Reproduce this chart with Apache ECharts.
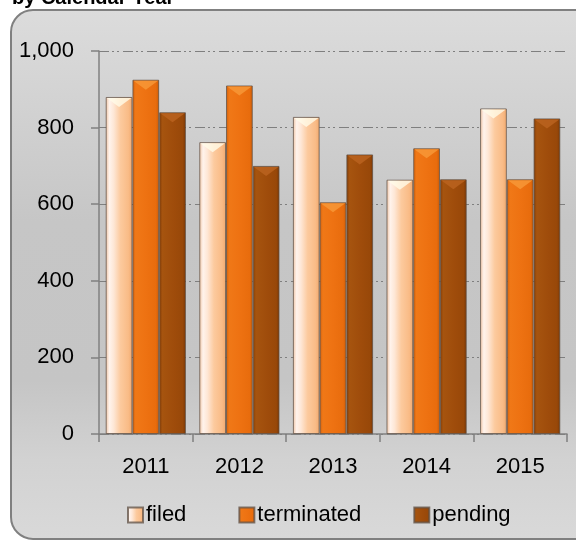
<!DOCTYPE html>
<html>
<head>
<meta charset="utf-8">
<style>
  html, body { margin: 0; padding: 0; background: #ffffff; }
  #chart { width: 576px; height: 541px; }
</style>
<script src="https://cdn.jsdelivr.net/npm/echarts@6/dist/echarts.min.js"></script>
</head>
<body>
<div id="chart"></div>
<script>
// Cases per calendar year
const years = ['2011', '2012', '2013', '2014', '2015'];
const filed = [880, 762, 828, 664, 850];
const terminated = [925, 910, 605, 746, 665];
const pending = [840, 700, 730, 665, 824];
const yTicks = [0, 200, 400, 600, 800, 1000];

const SANS = '"Liberation Sans", Arial, sans-serif';

function hGrad(stops) {
  return new echarts.graphic.LinearGradient(0, 0, 1, 0,
    stops.map(s => ({ offset: s[0], color: s[1] })));
}

const palette = {
  filed: hGrad([[0, '#efc3a3'], [0.14, '#fff3ec'], [0.3, '#fee7d6'], [0.55, '#fcca9e'], [0.85, '#f9bb86'], [1, '#f0a86e']]),
  terminated: hGrad([[0, '#d2600b'], [0.12, '#f07817'], [0.5, '#ee7212'], [0.88, '#e86c0d'], [1, '#c95b08']]),
  pending: hGrad([[0, '#833c05'], [0.12, '#a6540f'], [0.55, '#9f4c0b'], [0.88, '#984809'], [1, '#7a3704']])
};
const bevel = {
  filed: '#fffbe8',
  terminated: '#f89a3a',
  pending: '#bc6420'
};

const GAP = '14.3%';

function barSeries(name, data) {
  return {
    name: name,
    type: 'bar',
    data: data,
    barGap: '0%',
    barCategoryGap: GAP,
    itemStyle: {
      color: palette[name],
      borderColor: 'rgba(95,80,70,0.75)',
      borderWidth: 1
    },
    z: 2
  };
}

// light chevron bevel along the top edge of each bar
function bevelSeries(name, data) {
  return {
    name: name + '-top',
    type: 'pictorialBar',
    data: data,
    barGap: '0%',
    barCategoryGap: GAP,
    symbol: 'path://M0,0 L20,0 L10,7 Z',
    symbolSize: ['92%', 9],
    symbolPosition: 'end',
    symbolOffset: [0, 1],
    itemStyle: { color: bevel[name], opacity: 0.8 },
    silent: true,
    z: 3
  };
}

const chart = echarts.init(document.getElementById('chart'), null, { renderer: 'canvas' });

chart.setOption({
  animation: false,
  backgroundColor: '#ffffff',
  graphic: {
    elements: [
      {
        type: 'rect',
        z: -100,
        silent: true,
        shape: { x: 11, y: 10, width: 600, height: 529, r: 22 },
        style: {
          fill: new echarts.graphic.LinearGradient(0, 0, 0, 1, [
            { offset: 0, color: '#dcdcdc' },
            { offset: 0.4, color: '#c6c6c6' },
            { offset: 0.7, color: '#c5c5c5' },
            { offset: 0.85, color: '#d2d2d2' },
            { offset: 1, color: '#d9d9d9' }
          ]),
          stroke: '#808080',
          lineWidth: 2
        }
      },
      {
        type: 'text',
        z: -50,
        silent: true,
        style: {
          text: 'by Calendar Year',
          x: 12,
          y: -12,
          font: 'bold 20px "Liberation Sans", Arial, sans-serif',
          fill: '#000000'
        }
      }
    ]
  },
  grid: { left: 99, right: 9, top: 51, bottom: 107, containLabel: false },
  legend: {
    data: ['filed', 'terminated', 'pending'],
    left: 122,
    top: 499,
    icon: 'rect',
    itemWidth: 15,
    itemHeight: 15,
    itemGap: 52,
    textStyle: {
      fontFamily: SANS,
      fontSize: 22,
      color: '#000000',
      padding: [0, 0, 0, -2]
    }
  },
  xAxis: {
    type: 'category',
    data: years,
    axisLine: { lineStyle: { color: '#808080', width: 1.5 } },
    axisTick: { show: true, length: 8, lineStyle: { color: '#808080', width: 1.5 } },
    axisLabel: {
      fontFamily: SANS,
      fontSize: 22,
      color: '#000000',
      margin: 22
    }
  },
  yAxis: {
    type: 'value',
    min: yTicks[0],
    max: yTicks[yTicks.length - 1],
    interval: yTicks[1] - yTicks[0],
    axisLine: { show: true, lineStyle: { color: '#808080', width: 1.5 } },
    axisTick: { show: true, length: 8, lineStyle: { color: '#808080', width: 1.5 } },
    axisLabel: {
      fontFamily: SANS,
      fontSize: 22,
      color: '#000000',
      margin: 25,
      formatter: v => v.toLocaleString('en-US')
    },
    splitLine: {
      show: true,
      lineStyle: { color: '#7f7f7f', width: 1.2, type: [10, 3, 2, 3, 2, 4] }
    }
  },
  series: [
    barSeries('filed', filed),
    barSeries('terminated', terminated),
    barSeries('pending', pending),
    bevelSeries('filed', filed),
    bevelSeries('terminated', terminated),
    bevelSeries('pending', pending)
  ]
});
</script>
</body>
</html>
